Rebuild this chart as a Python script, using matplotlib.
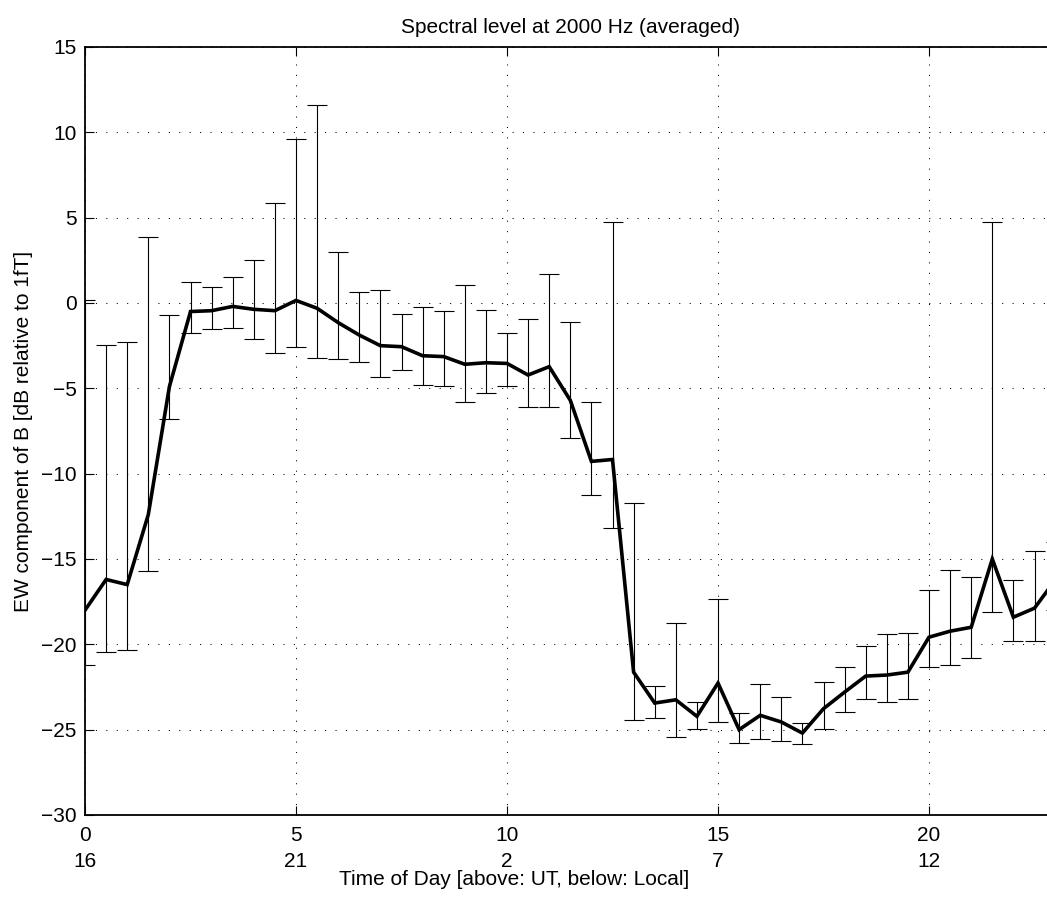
import numpy as np
import matplotlib
matplotlib.use("Agg")
import matplotlib.pyplot as plt

plt.rcParams["font.family"] = ["Liberation Sans", "DejaVu Sans"]

# UT hour of each averaged sample
ut_hours = [0, 0.5, 1, 1.5, 2, 2.5, 3, 3.5, 4, 4.5, 5, 5.5, 6, 6.5, 7, 7.5,
            8, 8.5, 9, 9.5, 10, 10.5, 11, 11.5, 12, 12.5, 13, 13.5, 14, 14.5,
            15, 15.5, 16, 16.5, 17, 17.5, 18, 18.5, 19, 19.5, 20, 20.5, 21,
            21.5, 22, 22.5, 23]

# mean spectral level [dB rel. 1 fT]
level = [-18.0, -16.2, -16.5, -12.4, -4.9, -0.5, -0.45, -0.2, -0.37, -0.45,
         0.15, -0.31, -1.15, -1.88, -2.5, -2.56, -3.09, -3.14, -3.59, -3.5,
         -3.54, -4.22, -3.73, -5.7, -9.28, -9.17, -21.63, -23.44, -23.25,
         -24.22, -22.27, -25.0, -24.16, -24.55, -25.2, -23.77, -22.8, -21.86,
         -21.8, -21.63, -19.58, -19.23, -19.0, -15.0, -18.41, -17.88, -16.2]

# error bar extents
upper = [0.2, -2.46, -2.28, 3.89, -0.7, 1.25, 0.96, 1.54, 2.5, 5.86,
         9.63, 11.62, 3.01, 0.64, 0.78, -0.63, -0.25, -0.45, 1.04, -0.41,
         -1.74, -0.94, 1.68, -1.09, -5.8, 4.77, -11.73, -22.47, -18.74,
         -23.4, -17.36, -24.03, -22.35, -23.09, -24.59, -22.21, -21.34, -20.07,
         -19.42, -19.31, -16.81, -15.64, -16.03, 4.75, -16.21, -14.51, -14.0]
lower = [-21.2, -20.46, -20.33, -15.68, -6.82, -1.78, -1.54, -1.45, -2.09, -2.95,
         -2.6, -3.2, -3.26, -3.46, -4.34, -3.95, -4.8, -4.84, -5.8, -5.29,
         -4.86, -6.07, -6.07, -7.9, -11.25, -13.21, -24.42, -24.3, -25.41,
         -24.94, -24.53, -25.8, -25.53, -25.68, -25.82, -24.94, -23.99, -23.19,
         -23.38, -23.19, -21.3, -21.24, -20.79, -18.12, -19.81, -19.78, -18.0]

ut_ticks = [0, 5, 10, 15, 20]
local_labels = ["16", "21", "2", "7", "12"]
y_ticks = [-30, -25, -20, -15, -10, -5, 0, 5, 10, 15]

x = np.array(ut_hours)
y = np.array(level)
yerr = [y - np.array(lower), np.array(upper) - y]

fig = plt.figure(figsize=(10.47, 8.99), dpi=100)
ax = fig.add_axes([85 / 1047, 84 / 899, 970.6 / 1047, 768 / 899])

ax.errorbar(x, y, yerr=yerr, fmt="none", ecolor="black", elinewidth=0.8,
            capsize=7.2, capthick=0.8, zorder=2)
ax.plot(x, y, color="black", lw=2.6, solid_joinstyle="miter", zorder=3)

ax.set_xlim(0, 23)
ax.set_ylim(-30, 15)
ax.set_yticks(y_ticks)
ax.set_yticklabels([str(v).replace("-", "\u2212") for v in y_ticks])
ax.set_xticks(ut_ticks)
ax.set_xticklabels([f"{u}\n{l}" for u, l in zip(ut_ticks, local_labels)])
for t in ax.get_xticklabels():
    t.set_linespacing(1.45)

ax.grid(True, color="black", lw=0.75, ls=(0, (1, 9)))
ax.tick_params(direction="in", length=6.5, width=0.8, top=True, right=True,
               labelsize=15, pad=6)
ax.tick_params(axis="x", pad=8)
for s in ax.spines.values():
    s.set_linewidth(1.3)

ax.set_title("Spectral level at 2000 Hz (averaged)", fontsize=15, pad=10)
ax.set_ylabel("EW component of B [dB relative to 1fT]", fontsize=15, labelpad=6)
ax.text(0.442, -0.084, "Time of Day [above: UT, below: Local]", fontsize=15,
        ha="center", va="center", transform=ax.transAxes)

fig.savefig("out.png", dpi=100)
